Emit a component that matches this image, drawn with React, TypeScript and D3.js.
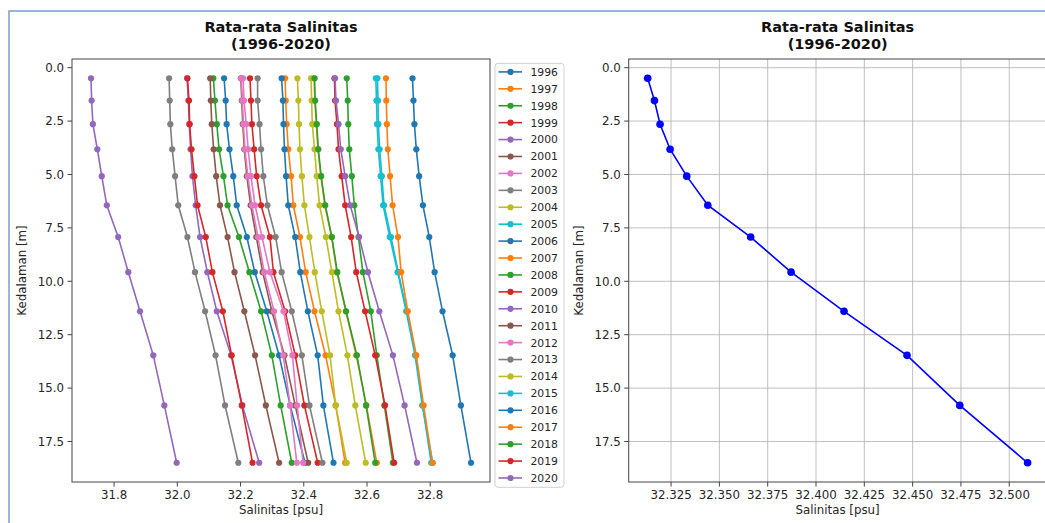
import * as d3 from "d3";

// depth levels (m)
const depths = [0.494, 1.541, 2.646, 3.819, 5.078, 6.441, 7.93, 9.573, 11.405, 13.467, 15.81, 18.496];

const years = [
  "1996", "1997", "1998", "1999", "2000", "2001", "2002", "2003", "2004", "2005",
  "2006", "2007", "2008", "2009", "2010", "2011", "2012", "2013", "2014", "2015",
  "2016", "2017", "2018", "2019", "2020",
];

const sal1996 = [32.148, 32.153, 32.156, 32.165, 32.177, 32.188, 32.22, 32.245, 32.283, 32.322, 32.357, 32.404];
const sal1997 = [32.341, 32.343, 32.346, 32.351, 32.36, 32.367, 32.388, 32.406, 32.434, 32.469, 32.501, 32.531];
const sal1998 = [32.114, 32.119, 32.125, 32.132, 32.146, 32.159, 32.195, 32.228, 32.265, 32.299, 32.327, 32.362];
const sal1999 = [32.23, 32.233, 32.236, 32.243, 32.251, 32.265, 32.293, 32.304, 32.341, 32.373, 32.402, 32.444];
const sal2000 = [32.031, 32.035, 32.038, 32.042, 32.048, 32.058, 32.072, 32.095, 32.125, 32.17, 32.206, 32.259];
const sal2001 = [32.201, 32.204, 32.207, 32.212, 32.22, 32.232, 32.25, 32.27, 32.299, 32.339, 32.373, 32.414];
const sal2002 = [32.208, 32.211, 32.218, 32.224, 32.233, 32.246, 32.268, 32.293, 32.336, 32.364, 32.379, 32.398];
const sal2003 = [31.974, 31.976, 31.978, 31.984, 31.993, 32.003, 32.032, 32.056, 32.088, 32.121, 32.151, 32.193];
const sal2004 = [32.38, 32.383, 32.385, 32.388, 32.394, 32.402, 32.418, 32.435, 32.457, 32.483, 32.501, 32.536];
const sal2005 = [32.633, 32.635, 32.636, 32.64, 32.647, 32.654, 32.676, 32.699, 32.726, 32.755, 32.776, 32.803];
const sal2006 = [32.33, 32.334, 32.336, 32.339, 32.344, 32.351, 32.373, 32.389, 32.413, 32.444, 32.462, 32.494];
const sal2007 = [32.433, 32.435, 32.44, 32.445, 32.454, 32.467, 32.488, 32.505, 32.533, 32.566, 32.598, 32.631];
const sal2008 = [32.536, 32.539, 32.541, 32.544, 32.552, 32.56, 32.573, 32.587, 32.612, 32.631, 32.655, 32.682];
const sal2009 = [32.032, 32.037, 32.039, 32.045, 32.054, 32.064, 32.09, 32.111, 32.144, 32.172, 32.204, 32.238];
const sal2010 = [31.727, 31.729, 31.733, 31.747, 31.761, 31.777, 31.813, 31.845, 31.882, 31.924, 31.959, 31.998];
const sal2011 = [32.104, 32.106, 32.109, 32.115, 32.123, 32.135, 32.159, 32.181, 32.212, 32.246, 32.28, 32.322];
const sal2012 = [32.202, 32.206, 32.209, 32.214, 32.223, 32.236, 32.255, 32.275, 32.306, 32.335, 32.357, 32.378];
const sal2013 = [32.254, 32.254, 32.26, 32.265, 32.272, 32.285, 32.311, 32.33, 32.362, 32.394, 32.418, 32.459];
const sal2014 = [32.423, 32.425, 32.427, 32.434, 32.441, 32.45, 32.47, 32.489, 32.51, 32.538, 32.563, 32.596];
const sal2015 = [32.628, 32.63, 32.632, 32.636, 32.643, 32.651, 32.672, 32.697, 32.724, 32.752, 32.775, 32.808];
const sal2016 = [32.744, 32.747, 32.75, 32.756, 32.765, 32.777, 32.797, 32.814, 32.839, 32.871, 32.897, 32.929];
const sal2017 = [32.66, 32.661, 32.663, 32.666, 32.673, 32.681, 32.698, 32.708, 32.729, 32.756, 32.779, 32.807];
const sal2018 = [32.434, 32.436, 32.441, 32.446, 32.455, 32.468, 32.489, 32.506, 32.534, 32.568, 32.597, 32.626];
const sal2019 = [32.497, 32.499, 32.505, 32.51, 32.52, 32.531, 32.55, 32.566, 32.594, 32.626, 32.657, 32.686];
const sal2020 = [32.499, 32.502, 32.51, 32.517, 32.531, 32.547, 32.575, 32.603, 32.639, 32.682, 32.719, 32.758];

// mean profile (right panel)
const salMean = [32.3129, 32.3164, 32.3193, 32.3245, 32.3331, 32.344, 32.3662, 32.3871, 32.4145, 32.4471, 32.4744, 32.5095];

const xTicksLeft = [31.8, 32.0, 32.2, 32.4, 32.6, 32.8];
const xTicksRight = [32.325, 32.35, 32.375, 32.4, 32.425, 32.45, 32.475, 32.5];
const yTicks = [0, 2.5, 5, 7.5, 10, 12.5, 15, 17.5];

const series = [
  sal1996, sal1997, sal1998, sal1999, sal2000, sal2001, sal2002, sal2003, sal2004, sal2005,
  sal2006, sal2007, sal2008, sal2009, sal2010, sal2011, sal2012, sal2013, sal2014, sal2015,
  sal2016, sal2017, sal2018, sal2019, sal2020,
];

const W = 1045;
const H = 523;
const FONT = "DejaVu Sans, sans-serif";
const TXT = "#262626";

const padded = (ext: number[]) => {
  const m = (ext[1] - ext[0]) * 0.05;
  return [ext[0] - m, ext[1] + m];
};

const top = 59;
const bottom = 482;

const Panel = ({ x0, x1, xs, ys, xTicks, fmt, grid, children }: any) => {
  return (
    <g>
      {grid && (
        <g stroke="#b0b0b0" strokeWidth={0.8}>
          {xTicks.map((t: number) => (
            <line key={"gx" + t} x1={xs(t)} x2={xs(t)} y1={top} y2={bottom} />
          ))}
          {yTicks.map((t) => (
            <line key={"gy" + t} x1={x0} x2={x1} y1={ys(t)} y2={ys(t)} />
          ))}
        </g>
      )}
      {children}
      <rect x={x0} y={top} width={x1 - x0} height={bottom - top} fill="none" stroke="#444" strokeWidth={1} />
      {xTicks.map((t: number) => (
        <g key={"tx" + t} transform={`translate(${xs(t)},${bottom})`}>
          <line y1={0} y2={4.5} stroke="#444" />
          <text y={17} textAnchor="middle" fontSize={11.8} fontFamily={FONT} fill={TXT}>
            {fmt(t)}
          </text>
        </g>
      ))}
      {yTicks.map((t) => (
        <g key={"ty" + t} transform={`translate(${x0},${ys(t)})`}>
          <line x1={0} x2={-4.5} stroke="#444" />
          <text x={-8} dy="0.36em" textAnchor="end" fontSize={11.8} fontFamily={FONT} fill={TXT}>
            {t.toFixed(1)}
          </text>
        </g>
      ))}
      <text x={(x0 + x1) / 2} y={514} textAnchor="middle" fontSize={11.8} fontFamily={FONT} fill={TXT}>
        Salinitas [psu]
      </text>
      <text
        transform={`translate(${x0 - 46},${(top + bottom) / 2}) rotate(-90)`}
        textAnchor="middle"
        fontSize={11.8}
        fontFamily={FONT}
        fill={TXT}
      >
        Kedalaman [m]
      </text>
      <text x={(x0 + x1) / 2} y={32} textAnchor="middle" fontSize={14.5} fontWeight="bold" fontFamily={FONT} fill="#111">
        Rata-rata Salinitas
      </text>
      <text x={(x0 + x1) / 2} y={49} textAnchor="middle" fontSize={14.5} fontWeight="bold" fontFamily={FONT} fill="#111">
        (1996-2020)
      </text>
    </g>
  );
};

const Lines = ({ ys, xs }: any) => {
  const colors = d3.schemeCategory10;
  const line = d3
    .line<number>()
    .x((d) => xs(d))
    .y((_, i) => ys(depths[i]));
  return (
    <g>
      {series.map((s, k) => (
        <g key={years[k]} stroke={colors[k % 10]} fill={colors[k % 10]}>
          <path d={line(s) ?? ""} fill="none" strokeWidth={1.6} />
          {s.map((v, i) => (
            <circle key={i} cx={xs(v)} cy={ys(depths[i])} r={3.1} stroke="none" />
          ))}
        </g>
      ))}
    </g>
  );
};

const MeanLine = ({ ys, xs }: any) => {
  const line = d3
    .line<number>()
    .x((d) => xs(d))
    .y((_, i) => ys(depths[i]));
  return (
    <g>
      <path d={line(salMean) ?? ""} fill="none" stroke="#0000ff" strokeWidth={1.6} />
      {salMean.map((v, i) => (
        <circle key={i} cx={xs(v)} cy={ys(depths[i])} r={3.8} fill="#0000ff" />
      ))}
    </g>
  );
};

export default function App() {
  const all = series.flat();
  const yDom = padded(d3.extent(depths) as number[]);
  const ys = d3.scaleLinear().domain(yDom).range([top, bottom]);

  const xL0 = 72;
  const xL1 = 490;
  const xsL = d3.scaleLinear().domain(padded(d3.extent(all) as number[])).range([xL0, xL1]);

  const xR0 = 628.7;
  const xR1 = 1046.6;
  const xsR = d3.scaleLinear().domain(padded(d3.extent(salMean) as number[])).range([xR0, xR1]);

  const legX = 495;
  const legY = 63.3;
  const legStep = 16.92;

  return (
    <svg
      width={W}
      height={H}
      viewBox={`0 0 ${W} ${H}`}
      style={{ position: "fixed", left: 0, top: 0, background: "#fff" }}
    >
      <rect x={0} y={0} width={W} height={H} fill="#fff" />
      <path d={`M9,${H} L9,11 L${W},11`} fill="none" stroke="#7f9acb" strokeWidth={1.5} />

      <Panel x0={xL0} x1={xL1} xs={xsL} ys={ys} xTicks={xTicksLeft} fmt={d3.format(".1f")} grid={false}>
        <Lines ys={ys} xs={xsL} />
      </Panel>

      <Panel x0={xR0} x1={xR1} xs={xsR} ys={ys} xTicks={xTicksRight} fmt={d3.format(".3f")} grid={true}>
        <MeanLine ys={ys} xs={xsR} />
      </Panel>

      {/* legend */}
      <g>
        <rect
          x={legX}
          y={legY}
          width={69}
          height={424}
          rx={3}
          fill="#fff"
          fillOpacity={0.8}
          stroke="#d0d0d0"
          strokeWidth={1}
        />
        {years.map((yr, k) => {
          const cy = legY + 8.6 + k * legStep;
          const c = d3.schemeCategory10[k % 10];
          return (
            <g key={yr}>
              <line x1={legX + 3.5} x2={legX + 27} y1={cy} y2={cy} stroke={c} strokeWidth={1.6} />
              <circle cx={legX + 15.5} cy={cy} r={3.1} fill={c} />
              <text x={legX + 35.5} y={cy} dy="0.36em" fontSize={10.8} fontFamily={FONT} fill={TXT}>
                {yr}
              </text>
            </g>
          );
        })}
      </g>
    </svg>
  );
}
